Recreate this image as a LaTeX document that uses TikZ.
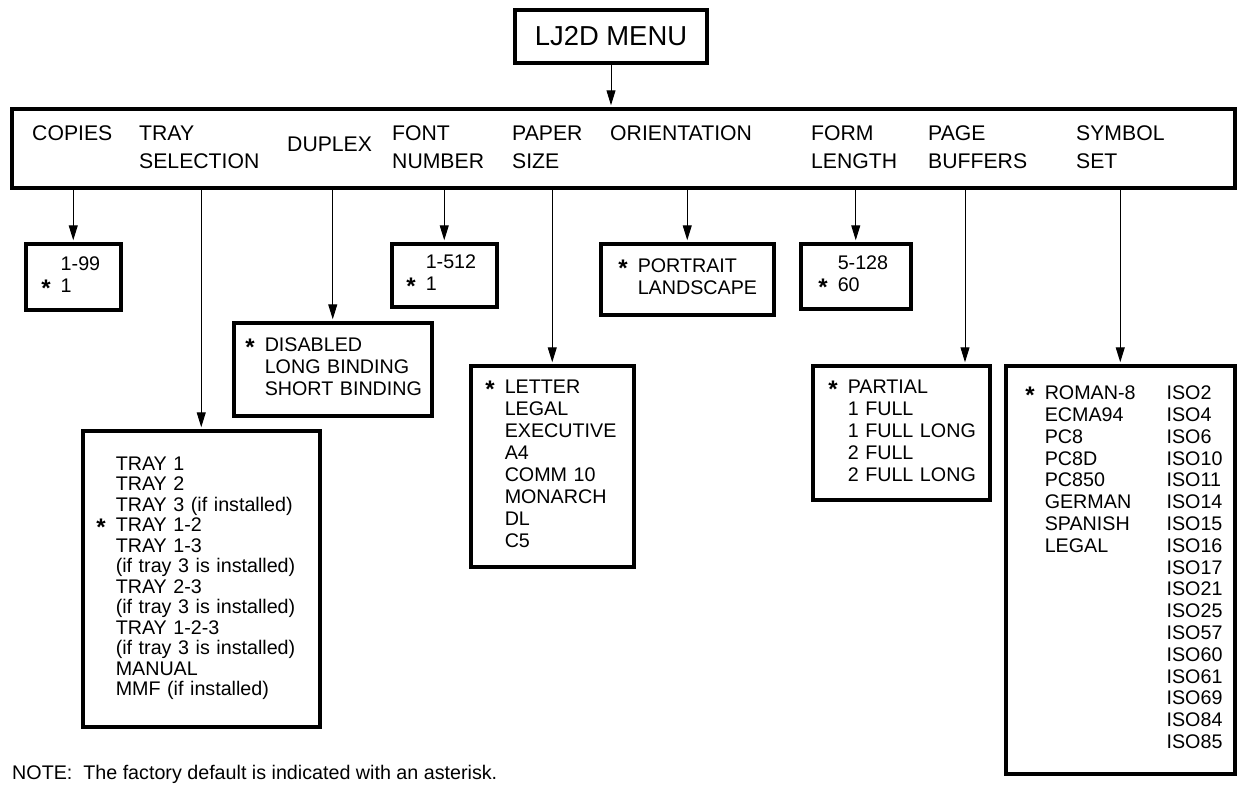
\documentclass[tikz,border=0pt]{standalone}
\usepackage{fontspec}
\setmainfont{Liberation Sans}
\usetikzlibrary{arrows.meta, positioning}

\newcommand{\dflt}{\llap{\smash{\raisebox{-4pt}{\fontsize{24}{24}\selectfont\bfseries *}}\hspace{10pt}}}
\newcommand{\optlist}[3][l]{\hspace*{#2pt}\begin{tabular}{@{}#1@{}}#3\end{tabular}}

\begin{document}
\begin{tikzpicture}[x=1pt, y=-1pt,
    >={Stealth[length=15pt, width=9pt, inset=0pt]},
    frame/.style={draw, line width=3.5pt},
    optbox/.style={frame, anchor=north west, inner xsep=0pt, inner ysep=0pt, align=left, font=\fontsize{19.7}{22}\selectfont},
    heading/.style={anchor=north west, inner sep=0pt, align=left, font=\fontsize{21.2}{28}\selectfont},
    link/.style={->, line width=1pt, shorten >=1.75pt}]
  \useasboundingbox (0,0) rectangle (1237,788);

  % top of the menu
  \node[frame, minimum width=192pt, minimum height=53pt, font=\fontsize{27.4}{30}\selectfont] (title) at (611,36.5) {LJ2D MENU};
  \node[frame, anchor=north west, minimum width=1223pt, minimum height=79pt, inner sep=0pt] (menu) at (10,107) {};

  % menu items
  \node[heading] (hcopies) at (32,125.5) {COPIES};
  \node[heading] (htray) at (139,125.5) {TRAY\\SELECTION};
  \node[heading] (hduplex) at (287,136.5) {DUPLEX};
  \node[heading] (hfont) at (392,125.5) {FONT\\NUMBER};
  \node[heading] (hpaper) at (512,125.5) {PAPER\\SIZE};
  \node[heading] (horient) at (610,125.5) {ORIENTATION};
  \node[heading] (hform) at (811,125.5) {FORM\\LENGTH};
  \node[heading] (hpgbuf) at (928,125.5) {PAGE\\BUFFERS};
  \node[heading] (hsymbol) at (1076,125.5) {SYMBOL\\SET};

  % option lists, first row
  \node[optbox, text width=95pt, minimum height=66pt] (copies) at (24,242) {\optlist{35}{1-99\\\dflt 1}};
  \node[optbox, text width=105pt, minimum height=63pt] (font) at (390,242) {\optlist{34}{1-512\\\dflt 1}};
  \node[optbox, text width=173pt, minimum height=71pt] (orient) at (599,242) {\optlist{37}{\dflt PORTRAIT\\LANDSCAPE}};
  \node[optbox, text width=110pt, minimum height=65pt] (form) at (799,242) {\optlist{37}{5-128\\\dflt 60}};

  % option lists, lower rows
  \node[optbox, text width=198pt, minimum height=93pt] (duplex) at (232,321) {\optlist{31}{\dflt DISABLED\\LONG BINDING\\SHORT BINDING}};
  \node[optbox, text width=163pt, minimum height=201pt] (paper) at (469,364) {\optlist{34}{\dflt LETTER\\LEGAL\\EXECUTIVE\\A4\\COMM 10\\MONARCH\\DL\\C5}};
  \node[optbox, text width=177pt, minimum height=134pt] (pgbuf) at (811,364) {\optlist{35}{\dflt PARTIAL\\1 FULL\\1 FULL LONG\\2 FULL\\2 FULL LONG}};
  \node[optbox, text width=229pt, minimum height=408pt, font=\fontsize{19.7}{21.8}\selectfont] (symbol) at (1004,364) {\optlist[l@{\hspace{31pt}}l]{39}{\dflt ROMAN-8 & ISO2\\ECMA94 & ISO4\\PC8 & ISO6\\PC8D & ISO10\\PC850 & ISO11\\GERMAN & ISO14\\SPANISH & ISO15\\LEGAL & ISO16\\ & ISO17\\ & ISO21\\ & ISO25\\ & ISO57\\ & ISO60\\ & ISO61\\ & ISO69\\ & ISO84\\ & ISO85}};
  \node[optbox, text width=237pt, minimum height=296pt, font=\fontsize{19.7}{20.5}\selectfont] (tray) at (81,429) {\optlist{33}{TRAY 1\\TRAY 2\\TRAY 3 (if installed)\\\dflt TRAY 1-2\\TRAY 1-3\\(if tray 3 is installed)\\TRAY 2-3\\(if tray 3 is installed)\\TRAY 1-2-3\\(if tray 3 is installed)\\MANUAL\\MMF (if installed)}};

  \coordinate (pbx) at (965,0);

  \node[anchor=west, inner sep=0pt, font=\fontsize{19.7}{22}\selectfont] (note) at (12,774) {NOTE:\ \ The factory default is indicated with an asterisk.};

  % arrows
  \path[link] (title) edge (menu.north -| title.south)
        (menu.south -| copies.north) edge (copies.north)
        (menu.south -| tray.north) edge (tray.north)
        (menu.south -| duplex.north) edge (duplex.north)
        (menu.south -| font.north) edge (font.north)
        (menu.south -| paper.north) edge (paper.north)
        (menu.south -| orient.north) edge (orient.north)
        (menu.south -| form.north) edge (form.north)
        (menu.south -| pbx) edge (pgbuf.north -| pbx)
        (menu.south -| symbol.north) edge (symbol.north)
        ;
\end{tikzpicture}
\end{document}
